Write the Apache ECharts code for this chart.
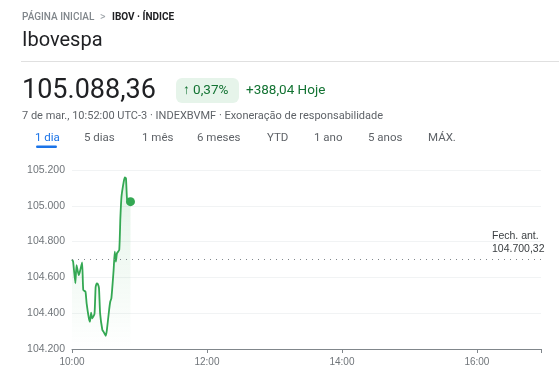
<!DOCTYPE html>
<html><head><meta charset="utf-8">
<script src="https://cdn.jsdelivr.net/npm/echarts@6/dist/echarts.min.js"></script>
<style>html,body{margin:0;padding:0;background:#fff}#c{width:559px;height:378px}</style>
</head><body><div id="c"></div>
<script>
// ---- data ----
const times = ['10:00','10:01','10:03','10:04','10:06','10:07','10:09','10:10','10:12','10:13','10:15','10:16','10:17','10:18','10:20','10:21','10:22','10:23','10:24','10:25','10:27','10:28','10:30','10:31','10:33','10:34','10:35','10:37','10:38','10:39','10:40','10:42','10:43','10:44','10:46','10:47','10:48','10:49','10:51','10:52'];
const values = [104700,104688,104567,104669,104613,104632,104684,104530,104520,104455,104372,104353,104403,104371,104396,104545,104567,104563,104540,104399,104306,104297,104274,104306,104418,104464,104483,104641,104744,104688,104735,104753,104930,105051,105135,105159,105153,105032,105028,105023];
const priceText = '105.088,36';
const changePct = '0,37%';
const changeAbs = '+388,04';
const prevClose = 104700.32;
const yTicks = [104200,104400,104600,104800,105000,105200];
const xTickLabels = ['10:00','12:00','14:00','16:00'];
const tabs = ['1 dia','5 dias','1 mês','6 meses','YTD','1 ano','5 anos','MÁX.'];
const tabX = [35,84,142,197,267,314,368,428];

// ---- helpers ----
const toMin = s => { const [h,m] = s.split(':').map(Number); return (h-10)*60 + m; };
const fmtNum = (v, dec) => {
  const parts = v.toFixed(dec).split('.');
  parts[0] = parts[0].replace(/\B(?=(\d{3})+(?!\d))/g, '.');
  return dec ? parts[0] + ',' + parts[1] : parts[0];
};
const seriesData = times.map((t,i) => [toMin(t), values[i]]);
const last = seriesData[seriesData.length-1];

const green = '#34a853';
const HF = 'Roboto, "Noto Sans", sans-serif';
const AF = '"Liberation Sans", Arial, sans-serif';

const graphics = [
  {type:'text', style:{x:22, y:17, text:'PÁGINA INICIAL', font:'500 10px '+HF, fill:'#80868b', verticalAlign:'middle'}},
  {type:'text', style:{x:100, y:17, text:'>', font:'400 10.5px '+HF, fill:'#9aa0a6', verticalAlign:'middle'}},
  {type:'text', style:{x:112, y:17, text:'IBOV · ÍNDICE', font:'700 10px '+HF, fill:'#202124', verticalAlign:'middle'}},
  {type:'text', style:{x:22, y:41, text:'Ibovespa', font:'400 20px '+HF, fill:'#202124', verticalAlign:'middle'}},
  {type:'line', shape:{x1:21, y1:61.5, x2:559, y2:61.5}, style:{stroke:'#e0e0e0', lineWidth:1}},
  {type:'text', style:{x:22, y:91, text:priceText, font:'400 27px '+HF, fill:'#202124', verticalAlign:'middle'}},
  {type:'rect', shape:{x:176, y:78, width:63, height:25, r:6}, style:{fill:'#e6f4ea'}},
  {type:'text', style:{x:183, y:91, text:'↑ ' + changePct, font:'400 13.5px '+HF, fill:'#137333', verticalAlign:'middle'}},
  {type:'text', style:{x:246, y:91, text:changeAbs + ' Hoje', font:'400 13.5px '+HF, fill:'#137333', verticalAlign:'middle'}},
  {type:'text', style:{x:22, y:116.5, text:'7 de mar., 10:52:00 UTC-3 · INDEXBVMF · Exoneração de responsabilidade', font:'400 11px '+HF, fill:'#5f6368', verticalAlign:'middle'}},
  {type:'rect', shape:{x:36, y:145.5, width:21, height:2.5, r:1.2}, style:{fill:'#1a73e8'}}
];
tabs.forEach((t,i) => graphics.push({type:'text', style:{x:tabX[i], y:138.5, text:t, font:'400 11.5px '+HF, fill: i===0 ? '#1a73e8' : '#5f6368', verticalAlign:'middle'}}));

const chart = echarts.init(document.getElementById('c'), null, {renderer:'canvas'});
chart.setOption({
  animation:false,
  graphic: graphics,
  grid:{left:72, right:18, top:170, bottom:29},
  xAxis:{type:'value', min:0, max:417, interval:120,
    axisLine:{show:true, lineStyle:{color:'#80868b', width:1}},
    axisTick:{show:true, length:4, lineStyle:{color:'#80868b'}},
    splitLine:{show:false},
    axisLabel:{color:'#70757a', fontFamily:AF, fontSize:10, margin:8,
      formatter: v => xTickLabels[v/120] || ''}},
  yAxis:{type:'value', min:yTicks[0], max:yTicks[yTicks.length-1], interval:200,
    axisLine:{show:false}, axisTick:{show:false},
    splitLine:{show:true, lineStyle:{color:'#f1f3f4', width:1}},
    axisLabel:{color:'#70757a', fontFamily:AF, fontSize:10.5, margin:7,
      formatter: v => fmtNum(v,0)}},
  series:[
    {type:'line', data:seriesData, showSymbol:false, symbol:'none',
      lineStyle:{color:green, width:1.8}, smooth:0.15,
      areaStyle:{color:new echarts.graphic.LinearGradient(0,0,0,1,[
        {offset:0, color:'rgba(52,168,83,0.2)'},{offset:1, color:'rgba(52,168,83,0)'}])},
      markLine:{silent:true, symbol:['none','none'],
        lineStyle:{color:'#80868b', type:[1,5], width:1},
        label:{show:true, position:'insideEndTop', distance:[ -3, 4],
          formatter:'{a|Fech. ant.}\n{a|' + fmtNum(prevClose,2) + '}',
          rich:{a:{width:52, align:'left', fontFamily:AF, fontSize:10.5, color:'#3c4043', lineHeight:13}}},
        data:[{yAxis:prevClose}]}
    },
    {type:'scatter', data:[last], symbol:'circle', symbolSize:9, itemStyle:{color:green, opacity:1}, z:5}
  ]
});
</script></body></html>
